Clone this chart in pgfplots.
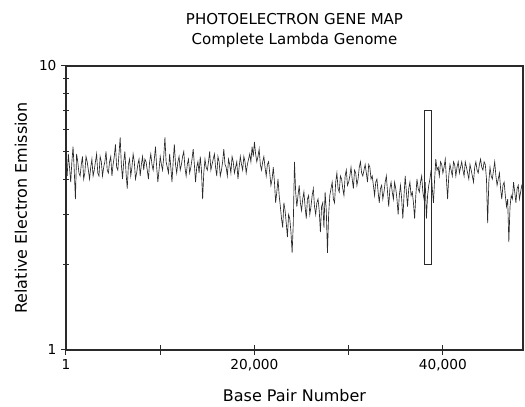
\documentclass[border=0pt]{standalone}
\usepackage{pgfplots}
\pgfplotsset{compat=1.18}
\usepackage{fontspec}
\setmainfont{DejaVu Sans}
\definecolor{ink}{HTML}{2A2A2A}
\begin{document}
\begin{tikzpicture}
\begin{axis}[
  name=ax,
  scale only axis,
  width=457pt, height=284pt,
  xmin=1, xmax=48502,
  ymode=log, ymin=1, ymax=10,
  scaled x ticks=false,
  xtick={1,10000,20000,30000,40000},
  xticklabels={1,,{20,000},,{40,000}},
  ytick={1,10}, yticklabels={1,10},
  minor ytick={2,3,4,5,6,7,8,9},
  tick pos=left,
  tick align=center,
  major tick length=10pt,
  minor tick length=6pt,
  every tick/.style={ink, line width=1pt},
  axis line style={ink, line width=1.6pt},
  ticklabel style={font=\fontsize{13.7}{15}\selectfont, text=black},
  /pgf/number format/assume math mode=true,
  xticklabel style={yshift=-1pt},
  yticklabel style={xshift=-1pt},
  xlabel={Base Pair Number},
  ylabel={Relative Electron Emission},
  label style={font=\fontsize{16}{18}\selectfont, text=black},
  xlabel style={at={(axis description cs:0.5,-0.162)}, anchor=center},
  ylabel style={at={(axis description cs:-0.0985,0.5)}, anchor=center},
  title={PHOTOELECTRON GENE MAP\\Complete Lambda Genome},
  title style={align=center, font=\fontsize{15}{20}\selectfont, text=black, yshift=9pt},
]
\addplot[ink, line width=0.65pt] coordinates {
(1,4.4) (125,4.1) (250,4.9) (375,4.4) (500,3.9) (625,4.6) (750,5.2) (875,4.3) (1000,3.4) (1125,4.9) (1250,4.6) (1375,4.2) (1500,4.1) (1625,4.5) (1750,4.8) (1875,4.0) (2000,4.2) (2125,4.8) (2250,4.6) (2375,4.3)
(2500,4.0) (2625,4.4) (2750,4.7) (2875,4.1) (3000,4.3) (3125,4.6) (3250,4.9) (3375,4.2) (3500,4.1) (3625,4.8) (3750,4.6) (3875,4.1) (4000,4.4) (4125,4.6) (4250,5.0) (4375,4.3) (4500,4.2) (4625,4.6) (4750,4.8) (4875,4.1)
(5000,4.5) (5125,4.8) (5250,5.3) (5375,4.4) (5500,4.3) (5625,4.9) (5750,5.6) (5875,4.5) (6000,4.0) (6125,4.6) (6250,5.0) (6375,4.2) (6500,3.7) (6625,4.5) (6750,4.7) (6875,4.1) (7000,4.4) (7125,4.9) (7250,4.6) (7375,4.0)
(7500,4.2) (7625,4.5) (7750,4.7) (7875,4.1) (8000,4.5) (8125,4.8) (8250,4.3) (8375,4.7) (8500,4.6) (8625,4.3) (8750,4.0) (8875,4.6) (9000,4.9) (9125,4.5) (9250,4.3) (9375,4.7) (9500,5.2) (9625,4.4) (9750,3.9) (9875,4.3)
(10000,4.8) (10125,4.5) (10250,4.3) (10375,4.8) (10500,5.6) (10625,4.6) (10750,4.4) (10875,4.2) (11000,4.9) (11125,4.4) (11250,3.9) (11375,4.6) (11500,5.3) (11625,4.5) (11750,4.2) (11875,4.6) (12000,4.8) (12125,4.3) (12250,4.5) (12375,4.8)
(12500,5.0) (12625,4.4) (12750,4.1) (12875,4.5) (13000,4.7) (13125,4.2) (13250,4.4) (13375,4.7) (13500,5.1) (13625,4.5) (13750,3.9) (13875,4.4) (14000,4.6) (14125,4.2) (14250,4.8) (14375,4.3) (14500,3.4) (14625,4.2) (14750,4.7) (14875,4.4)
(15000,4.3) (15125,4.6) (15250,5.0) (15375,4.3) (15500,4.5) (15625,4.7) (15750,4.9) (15875,4.4) (16000,4.1) (16125,4.8) (16250,4.6) (16375,4.1) (16500,4.3) (16625,4.6) (16750,5.1) (16875,4.5) (17000,4.4) (17125,4.1) (17250,4.7) (17375,4.5)
(17500,4.2) (17625,4.8) (17750,4.6) (17875,4.2) (18000,4.4) (18125,4.6) (18250,4.0) (18375,4.4) (18500,4.8) (18625,4.5) (18750,4.3) (18875,4.8) (19000,4.6) (19125,4.2) (19250,4.5) (19375,4.7) (19500,4.9) (19625,4.6) (19750,5.2) (19875,4.8)
(20000,5.4) (20125,4.9) (20250,4.6) (20375,4.8) (20500,5.1) (20625,4.5) (20750,4.3) (20875,4.6) (21000,4.8) (21125,4.4) (21250,4.1) (21375,4.5) (21500,4.6) (21625,4.2) (21750,3.8) (21875,4.0) (22000,4.4) (22125,3.9) (22250,3.3) (22375,3.6)
(22500,4.0) (22625,3.5) (22750,3.2) (22875,2.9) (23000,2.7) (23125,3.3) (23250,3.1) (23375,2.8) (23500,2.5) (23625,3.0) (23750,2.9) (23875,2.6) (24000,2.2) (24125,2.8) (24250,4.6) (24375,3.6) (24500,3.2) (24625,3.5) (24750,3.8) (24875,3.3)
(25000,3.1) (25125,3.4) (25250,3.6) (25375,3.2) (25500,2.9) (25625,3.4) (25750,3.5) (25875,3.0) (26000,3.2) (26125,3.5) (26250,3.7) (26375,3.2) (26500,3.0) (26625,3.3) (26750,3.4) (26875,3.1) (27000,2.6) (27125,3.2) (27250,3.3) (27375,2.7)
(27500,3.6) (27625,3.1) (27750,2.2) (27875,3.0) (28000,3.5) (28125,3.7) (28250,3.9) (28375,3.4) (28500,3.3) (28625,3.9) (28750,4.2) (28875,3.7) (29000,3.6) (29125,4.1) (29250,4.0) (29375,3.7) (29500,3.5) (29625,4.1) (29750,4.3) (29875,3.8)
(30000,3.9) (30125,4.1) (30250,4.4) (30375,4.0) (30500,3.7) (30625,4.3) (30750,4.2) (30875,3.8) (31000,4.0) (31125,4.4) (31250,4.6) (31375,4.2) (31500,4.1) (31625,4.3) (31750,4.5) (31875,4.2) (32000,3.9) (32125,4.5) (32250,4.4) (32375,4.0)
(32500,4.1) (32625,3.8) (32750,3.5) (32875,3.9) (33000,4.0) (33125,3.6) (33250,3.3) (33375,3.7) (33500,3.8) (33625,3.4) (33750,3.6) (33875,3.9) (34000,4.1) (34125,3.6) (34250,3.2) (34375,3.7) (34500,3.9) (34625,3.6) (34750,3.4) (34875,3.9)
(35000,3.7) (35125,3.4) (35250,3.0) (35375,3.5) (35500,3.8) (35625,3.4) (35750,2.9) (35875,3.5) (36000,4.1) (36125,3.6) (36250,3.2) (36375,3.7) (36500,3.9) (36625,3.5) (36750,3.6) (36875,3.3) (37000,2.9) (37125,3.5) (37250,4.0) (37375,3.7)
(37500,3.6) (37625,3.9) (37750,4.1) (37875,3.6) (38000,3.4) (38125,3.9) (38250,2.9) (38375,3.5) (38500,3.8) (38625,4.0) (38750,4.3) (38875,3.7) (39000,3.3) (39125,4.0) (39250,4.7) (39375,4.3) (39500,4.4) (39625,4.1) (39750,4.6) (39875,4.5)
(40000,4.2) (40125,4.4) (40250,4.7) (40375,4.0) (40500,3.4) (40625,4.1) (40750,4.5) (40875,4.3) (41000,4.1) (41125,4.6) (41250,4.5) (41375,4.1) (41500,4.4) (41625,4.6) (41750,4.2) (41875,4.4) (42000,4.6) (42125,4.3) (42250,4.1) (42375,4.6)
(42500,4.4) (42625,4.2) (42750,4.0) (42875,4.5) (43000,4.3) (43125,4.1) (43250,3.9) (43375,4.4) (43500,4.6) (43625,4.3) (43750,4.2) (43875,4.5) (44000,4.7) (44125,4.4) (44250,4.3) (44375,4.6) (44500,4.5) (44625,4.0) (44750,2.8) (44875,3.9)
(45000,4.4) (45125,4.1) (45250,4.0) (45375,4.3) (45500,4.6) (45625,4.1) (45750,3.8) (45875,4.0) (46000,4.2) (46125,3.7) (46250,3.4) (46375,3.8) (46500,3.9) (46625,3.5) (46750,3.2) (46875,3.4) (47000,2.4) (47125,3.2) (47250,3.5) (47375,3.4)
(47500,3.9) (47625,3.6) (47750,3.3) (47875,3.7) (48000,3.8) (48125,3.4) (48250,3.6) (48375,3.8) (48500,3.9)
};
\addplot[ink, line width=0.8pt] coordinates {(38000,2) (38800,2) (38800,7) (38000,7) (38000,2)};
\end{axis}
\pgfresetboundingbox
\path[use as bounding box] ([shift={(-66pt,-57pt)}]ax.south west) rectangle ([shift={(2pt,66pt)}]ax.north east);
\end{tikzpicture}
\end{document}
